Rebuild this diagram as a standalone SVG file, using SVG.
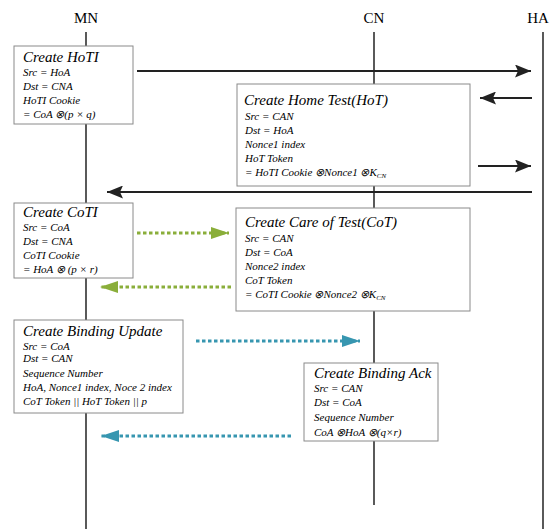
<svg xmlns="http://www.w3.org/2000/svg" width="556" height="529" viewBox="0 0 556 529">
<defs>
<style>
.life{stroke:#000;stroke-width:1.3;fill:none}
.box{fill:#fff;stroke:#8a8a8a;stroke-width:1}
.hdr{font-family:"Liberation Serif","Times New Roman",serif;font-size:15px;fill:#000;text-anchor:middle}
.ttl{font-family:"Liberation Serif","Times New Roman",serif;font-style:italic;font-size:15px;fill:#000}
.bd{font-family:"Liberation Serif","Times New Roman",serif;font-style:italic;font-size:11px;fill:#000}
.sub{font-size:7px}
.blk{stroke:#222;stroke-width:2.2;fill:none}
.grn{stroke:#8aae3a;stroke-width:3;stroke-dasharray:3.5 2.5;fill:none}
.tel{stroke:#3796b0;stroke-width:3;stroke-dasharray:3.5 2.5;fill:none}
</style>
<marker id="ab" markerUnits="userSpaceOnUse" markerWidth="17" markerHeight="13" refX="16" refY="6.5" orient="auto"><path d="M0,0 L16,6.5 L0,13 L3,6.5 Z" fill="#222"/></marker>
<marker id="ag" markerUnits="userSpaceOnUse" markerWidth="19" markerHeight="12" refX="18" refY="6" orient="auto"><path d="M0,0 L18,6 L0,12 Z" fill="#8aae3a"/></marker>
<marker id="at" markerUnits="userSpaceOnUse" markerWidth="19" markerHeight="12" refX="18" refY="6" orient="auto"><path d="M0,0 L18,6 L0,12 Z" fill="#3796b0"/></marker>
</defs>
<rect width="556" height="529" fill="#fff"/>
<g id="lifelines">
<text class="hdr" x="86" y="23">MN</text>
<text class="hdr" x="374" y="23">CN</text>
<text class="hdr" x="538" y="23">HA</text>
<line class="life" x1="86" y1="32" x2="86" y2="529"/>
<line class="life" x1="374" y1="32" x2="374" y2="505"/>
<line class="life" x1="543" y1="32" x2="543" y2="529"/>
</g>
<g id="connectors">
<line class="blk" x1="137" y1="71" x2="531" y2="71" marker-end="url(#ab)"/>
<line class="blk" x1="532" y1="98" x2="480" y2="98" marker-end="url(#ab)"/>
<line class="blk" x1="478" y1="166" x2="531" y2="166" marker-end="url(#ab)"/>
<line class="blk" x1="532" y1="192" x2="107" y2="192" marker-end="url(#ab)"/>
<line class="grn" x1="137" y1="233" x2="229" y2="233" marker-end="url(#ag)"/>
<line class="grn" x1="231" y1="287" x2="100" y2="287" marker-end="url(#ag)"/>
<line class="tel" x1="196" y1="341" x2="360" y2="341" marker-end="url(#at)"/>
<line class="tel" x1="291" y1="436" x2="101" y2="436" marker-end="url(#at)"/>
</g>
<g id="hoti">
<rect class="box" x="14" y="46" width="119" height="78"/>
<text class="ttl" x="23" y="62">Create HoTI</text>
<text class="bd" x="23" y="76">Src = HoA</text>
<text class="bd" x="23" y="90">Dst =  CNA</text>
<text class="bd" x="23" y="104">HoTI Cookie</text>
<text class="bd" x="23" y="118">= CoA  ⊗(p × q)</text>
</g>
<g id="hot">
<rect class="box" x="237" y="84" width="233" height="102"/>
<text class="ttl" x="244" y="105">Create Home Test(HoT)</text>
<text class="bd" x="245" y="120">Src = CAN</text>
<text class="bd" x="245" y="134">Dst = HoA</text>
<text class="bd" x="245" y="148">Nonce1 index</text>
<text class="bd" x="245" y="162">HoT Token</text>
<text class="bd" x="245" y="176">= HoTI Cookie  ⊗Nonce1  ⊗K<tspan class="sub" dy="2">CN</tspan></text>
</g>
<g id="coti">
<rect class="box" x="14" y="203" width="119" height="75"/>
<text class="ttl" x="23" y="217">Create CoTI</text>
<text class="bd" x="23" y="231">Src = CoA</text>
<text class="bd" x="23" y="245">Dst =  CNA</text>
<text class="bd" x="23" y="259">CoTI Cookie</text>
<text class="bd" x="23" y="273">= HoA  ⊗ (p  ×  r)</text>
</g>
<g id="cot">
<rect class="box" x="236" y="208" width="234" height="103"/>
<text class="ttl" x="245" y="227">Create Care of Test(CoT)</text>
<text class="bd" x="245" y="242">Src = CAN</text>
<text class="bd" x="245" y="256">Dst = CoA</text>
<text class="bd" x="245" y="270">Nonce2 index</text>
<text class="bd" x="245" y="284">CoT Token</text>
<text class="bd" x="245" y="298">= CoTI Cookie  ⊗Nonce2  ⊗K<tspan class="sub" dy="2">CN</tspan></text>
</g>
<g id="bu">
<rect class="box" x="14" y="320" width="169" height="93"/>
<text class="ttl" x="23" y="336">Create Binding Update</text>
<text class="bd" x="23" y="350">Src = CoA</text>
<text class="bd" x="23" y="362">Dst =  CAN</text>
<text class="bd" x="23" y="377">Sequence Number</text>
<text class="bd" x="23" y="391">HoA, Nonce1 index, Noce 2 index</text>
<text class="bd" x="23" y="405">CoT Token  || HoT Token || p</text>
</g>
<g id="back">
<rect class="box" x="304" y="363" width="134" height="78"/>
<text class="ttl" x="314" y="378">Create Binding Ack</text>
<text class="bd" x="314" y="392">Src = CAN</text>
<text class="bd" x="314" y="406">Dst = CoA</text>
<text class="bd" x="314" y="421">Sequence Number</text>
<text class="bd" x="314" y="436">CoA  ⊗HoA  ⊗(q×r)</text>
</g>
</svg>
